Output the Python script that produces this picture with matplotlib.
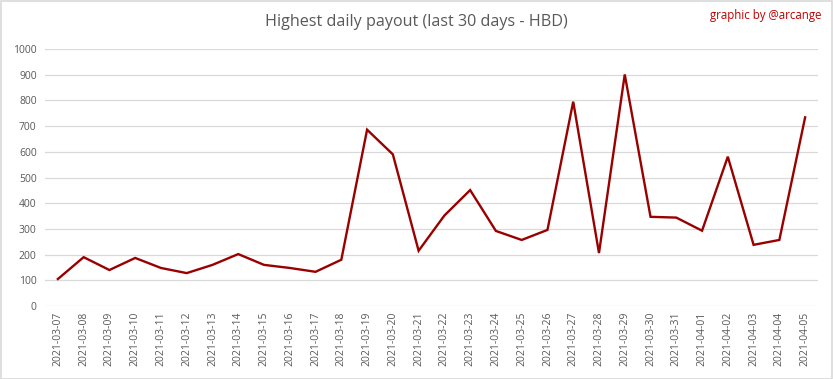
import matplotlib
matplotlib.use("Agg")
import matplotlib.pyplot as plt
from matplotlib.patches import Rectangle

dates = ["2021-03-07", "2021-03-08", "2021-03-09", "2021-03-10", "2021-03-11",
         "2021-03-12", "2021-03-13", "2021-03-14", "2021-03-15", "2021-03-16",
         "2021-03-17", "2021-03-18", "2021-03-19", "2021-03-20", "2021-03-21",
         "2021-03-22", "2021-03-23", "2021-03-24", "2021-03-25", "2021-03-26",
         "2021-03-27", "2021-03-28", "2021-03-29", "2021-03-30", "2021-03-31",
         "2021-04-01", "2021-04-02", "2021-04-03", "2021-04-04", "2021-04-05"]
payout = [105, 190, 140, 187, 148, 128, 160, 202, 160, 148,
          133, 180, 686, 590, 215, 352, 451, 292, 257, 296,
          795, 206, 901, 347, 344, 293, 581, 238, 257, 734]
yticks = [0, 100, 200, 300, 400, 500, 600, 700, 800, 900, 1000]

W, H = 833, 379
fig = plt.figure(figsize=(W / 100, H / 100), dpi=100)
plt.rcParams['font.family'] = ['Open Sans', 'DejaVu Sans']

ax = fig.add_axes([45 / W, 1 - 306 / H, 773 / W, (306 - 49) / H])
x = list(range(len(dates)))
ax.plot(x, payout, color="#990000", lw=1.7, solid_joinstyle="miter")
ax.set_xlim(-0.5, len(dates) - 0.5)
ax.set_ylim(0, 1000)
ax.set_yticks(yticks)
ax.set_yticklabels([str(v) for v in yticks], fontsize=7.5, color="#595959")
ax.set_xticks(x)
ax.set_xticklabels(dates, rotation=90, fontsize=7.5, color="#595959")
ax.grid(axis="y", color="#d9d9d9", lw=0.9)
ax.set_axisbelow(True)
for s in ax.spines.values():
    s.set_visible(False)
ax.tick_params(axis="both", length=0, pad=6)
ax.tick_params(axis="x", pad=4)

fig.text(416 / W, 1 - 22 / H, "Highest daily payout (last 30 days - HBD)",
         ha="center", va="center", fontsize=11.6, color="#595959")
fig.text(821 / W, 1 - 15 / H, "graphic by @arcange", ha="right", va="center",
         fontsize=8.3, color="#c00000")

fig.patches.append(Rectangle((0.5 / W, 0.5 / H), 1 - 1.5 / W, 1 - 1.5 / H,
                             transform=fig.transFigure, fill=False,
                             edgecolor="#d9d9d9", lw=1.2))
fig.savefig("out.png", dpi=100, facecolor="white")
